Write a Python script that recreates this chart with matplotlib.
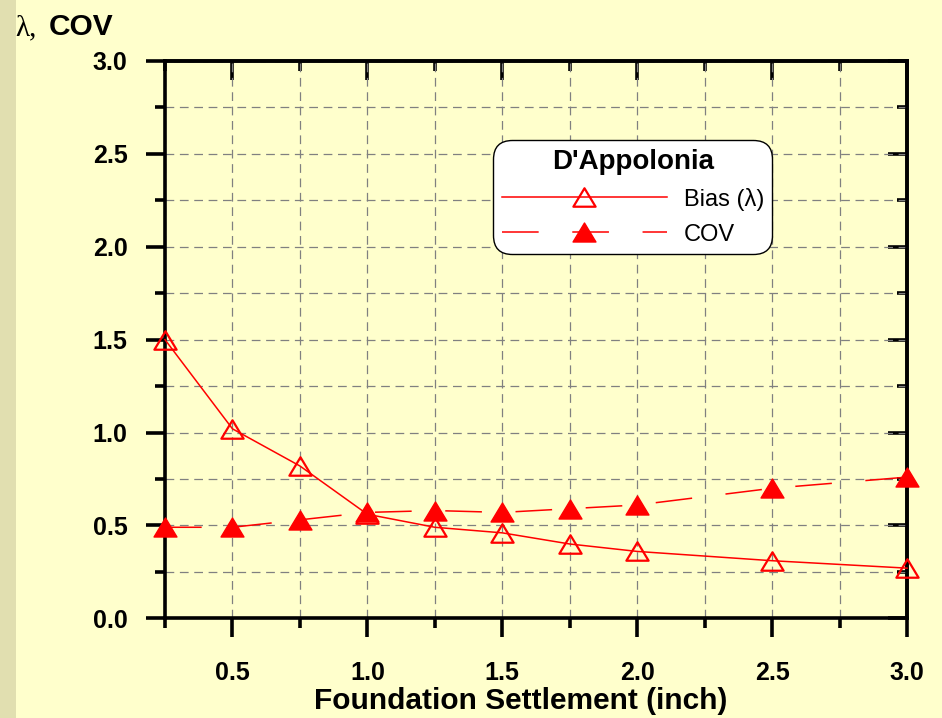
import matplotlib
matplotlib.use("Agg")
import matplotlib.pyplot as plt
from matplotlib.ticker import MultipleLocator, FormatStrFormatter
from matplotlib.patches import Rectangle
from matplotlib.path import Path

# settlement (inch) and D'Appolonia statistics
settlement = [0.25, 0.5, 0.75, 1.0, 1.25, 1.5, 1.75, 2.0, 2.5, 3.0]
bias = [1.50, 1.02, 0.82, 0.56, 0.49, 0.46, 0.40, 0.36, 0.31, 0.27]
cov = [0.49, 0.49, 0.53, 0.57, 0.58, 0.57, 0.59, 0.61, 0.70, 0.76]

x_ticks = [0.5, 1.0, 1.5, 2.0, 2.5, 3.0]
y_ticks = [0.0, 0.5, 1.0, 1.5, 2.0, 2.5, 3.0]

BG = "#FFFFCC"
RED = "#FF0000"
SANS = ["Liberation Sans", "DejaVu Sans"]

plt.rcParams["font.family"] = SANS
plt.rcParams["font.weight"] = "bold"

fig = plt.figure(figsize=(9.42, 7.18), dpi=100, facecolor=BG)
fig.patches.append(Rectangle((0, 0), 16 / 942, 1, transform=fig.transFigure,
                             facecolor="#E1DFB0", edgecolor="none", zorder=0))

ax = fig.add_axes([165 / 942, 1 - 618.3 / 718, 742 / 942, 557.3 / 718])
ax.set_facecolor("none")

# wide triangle marker, centred on its bounding box
tri = Path([(0, 0.83), (-1, -0.83), (1, -0.83), (0, 0.83)],
           [Path.MOVETO, Path.LINETO, Path.LINETO, Path.CLOSEPOLY])

ax.plot(settlement, bias, color=RED, lw=1.1, marker=tri, ms=16,
        mfc="none", mec=RED, mew=1.6, label="Bias (\u03bb)", zorder=3,
        clip_on=False)
ax.plot(settlement, cov, color=RED, lw=1.1, marker=tri, ms=16.5,
        mfc=RED, mec=RED, mew=1.0, dashes=(24, 22), label="COV", zorder=3,
        clip_on=False)

ax.set_xlim(0.25, 3.0)
ax.set_ylim(0, 3.0)
ax.set_xticks(x_ticks)
ax.set_yticks(y_ticks)
ax.xaxis.set_minor_locator(MultipleLocator(0.25))
ax.yaxis.set_minor_locator(MultipleLocator(0.25))
ax.xaxis.set_major_formatter(FormatStrFormatter("%.1f"))
ax.yaxis.set_major_formatter(FormatStrFormatter("%.1f"))

for s in ax.spines.values():
    s.set_linewidth(2.6)
    s.set_color("black")

ax.tick_params(which="major", direction="out", length=14, width=2.6,
               labelsize=18)
ax.tick_params(which="minor", direction="out", length=7.5, width=2.6)
ax.tick_params(axis="x", which="major", pad=17)
ax.tick_params(axis="y", which="major", pad=13)
for lab in ax.get_xticklabels() + ax.get_yticklabels():
    lab.set_fontweight("bold")

ax.grid(which="both", color="#808080", lw=0.9, linestyle=(0, (7, 4.5)),
        zorder=1)
ax.set_axisbelow(True)

# inward ticks on the top and right frame
top = ax.secondary_xaxis("top")
top.set_xticks(x_ticks)
top.xaxis.set_minor_locator(MultipleLocator(0.25))
top.tick_params(which="major", direction="in", length=14, width=2.6,
                labeltop=False)
top.tick_params(which="minor", direction="in", length=7.5, width=2.6)
top.spines["top"].set_linewidth(2.6)

right = ax.secondary_yaxis("right")
right.set_yticks(y_ticks)
right.yaxis.set_minor_locator(MultipleLocator(0.25))
right.tick_params(which="major", direction="in", length=14, width=2.6,
                  labelright=False)
right.tick_params(which="minor", direction="in", length=7.5, width=2.6)
right.spines["right"].set_linewidth(2.6)

leg = ax.legend(loc="upper left", bbox_to_anchor=(0.449, 0.849),
                title="D'Appolonia", prop={"size": 17, "weight": "normal"},
                title_fontproperties={"size": 20, "weight": "bold"},
                handlelength=7, handletextpad=0.7, labelspacing=0.55,
                borderpad=0.15, borderaxespad=0, markerfirst=True,
                fancybox=True, framealpha=1, edgecolor="black",
                facecolor="white")
leg.get_frame().set_linewidth(1.0)
leg.get_frame().set_boxstyle("round", pad=0.2, rounding_size=0.8)
leg.set_zorder(5)

fig.text(521 / 942, 1 - 709 / 718, "Foundation Settlement (inch)",
         ha="center", va="baseline", fontsize=21.5, fontweight="bold")
fig.text(15 / 942, 1 - 35 / 718, "\u03bb,", ha="left", va="baseline",
         fontsize=21, fontweight="normal",
         family=["Liberation Serif", "DejaVu Serif"])
fig.text(49 / 942, 1 - 35 / 718, "COV", ha="left", va="baseline",
         fontsize=21.5, fontweight="bold")

fig.savefig("out.png", dpi=100, facecolor=BG)
